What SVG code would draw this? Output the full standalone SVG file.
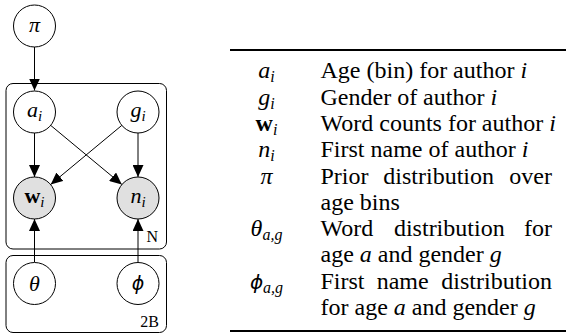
<svg xmlns="http://www.w3.org/2000/svg" width="566" height="334" viewBox="0 0 566 334">
<defs>
<marker id="ah" markerUnits="userSpaceOnUse" markerWidth="12" markerHeight="11" refX="12" refY="5.5" orient="auto">
<path d="M0,0 L12,5.5 L0,11 z" fill="#000"/>
</marker>
</defs>

<g id="plates" fill="none" stroke="#000" stroke-width="1">
<rect id="plate-N" x="6" y="83.5" width="160.5" height="165.5" rx="7"/>
<rect id="plate-2B" x="6" y="255.5" width="160.5" height="77" rx="7"/>
</g>
<text font-family="Liberation Serif" font-size="16" x="146.5" y="242">N</text>
<text font-family="Liberation Serif" font-size="16" text-anchor="end" x="159" y="327">2B</text>

<g id="connectors" stroke="#000" stroke-width="1" fill="none" marker-end="url(#ah)">
<line x1="34.5" y1="47" x2="34.5" y2="90.5"/>
<line x1="34.5" y1="133" x2="34.5" y2="177"/>
<line x1="138" y1="133" x2="138" y2="177"/>
<line x1="50.7" y1="125.4" x2="121.8" y2="184.4"/>
<line x1="121.8" y1="125.4" x2="50.7" y2="184.4"/>
<line x1="34.5" y1="262" x2="34.5" y2="219"/>
<line x1="138" y1="262" x2="138" y2="219"/>
</g>

<g id="node-pi">
<circle cx="34.5" cy="26" r="21" fill="#fff" stroke="#000"/>
<text font-family="Liberation Serif" font-size="22" font-style="italic" text-anchor="middle" x="34.5" y="32">&#960;</text>
</g>
<g id="node-a">
<circle cx="34.5" cy="112" r="21" fill="#fff" stroke="#000"/>
<text font-family="Liberation Serif" font-size="22" font-style="italic" text-anchor="middle" x="34.5" y="117">a<tspan font-size="15" dy="4">i</tspan></text>
</g>
<g id="node-g">
<circle cx="138" cy="112" r="21" fill="#fff" stroke="#000"/>
<text font-family="Liberation Serif" font-size="22" font-style="italic" text-anchor="middle" x="138" y="117">g<tspan font-size="15" dy="4">i</tspan></text>
</g>
<g id="node-w">
<circle cx="34.5" cy="198" r="21" fill="#e0e0e0" stroke="#000"/>
<text font-family="Liberation Serif" font-size="22" font-style="italic" text-anchor="middle" x="34.5" y="203"><tspan font-style="normal" font-weight="bold">w</tspan><tspan font-size="15" dy="4">i</tspan></text>
</g>
<g id="node-n">
<circle cx="138" cy="198" r="21" fill="#e0e0e0" stroke="#000"/>
<text font-family="Liberation Serif" font-size="22" font-style="italic" text-anchor="middle" x="138" y="203">n<tspan font-size="15" dy="4">i</tspan></text>
</g>
<g id="node-theta">
<circle cx="34.5" cy="283.5" r="21" fill="#fff" stroke="#000"/>
<text font-family="Liberation Serif" font-size="22" font-style="italic" text-anchor="middle" x="34.5" y="291">&#952;</text>
</g>
<g id="node-phi">
<circle cx="138" cy="283.5" r="21" fill="#fff" stroke="#000"/>
<text font-family="DejaVu Sans" font-size="19" font-style="italic" text-anchor="middle" x="138" y="290">&#981;</text>
</g>

<g id="table">
<line x1="230" y1="50" x2="566" y2="50" stroke="#000" stroke-width="2"/>
<line x1="230" y1="331" x2="566" y2="331" stroke="#000" stroke-width="2"/>

<text font-family="Liberation Serif" font-size="24" font-style="italic" text-anchor="middle" x="266.5" y="78.3">a<tspan font-size="16" dy="4">i</tspan></text>
<text font-family="Liberation Serif" font-size="24" x="320.5" y="78.3">Age (bin) for author <tspan font-style="italic">i</tspan></text>

<text font-family="Liberation Serif" font-size="24" font-style="italic" text-anchor="middle" x="266.5" y="104.6">g<tspan font-size="16" dy="4">i</tspan></text>
<text font-family="Liberation Serif" font-size="24" x="320.5" y="104.6">Gender of author <tspan font-style="italic">i</tspan></text>

<text font-family="Liberation Serif" font-size="24" text-anchor="middle" x="266.5" y="130.9"><tspan font-weight="bold">w</tspan><tspan font-size="16" font-style="italic" dy="4">i</tspan></text>
<text font-family="Liberation Serif" font-size="24" x="320.5" y="130.9">Word counts for author <tspan font-style="italic">i</tspan></text>

<text font-family="Liberation Serif" font-size="24" font-style="italic" text-anchor="middle" x="266.5" y="157.2">n<tspan font-size="16" dy="4">i</tspan></text>
<text font-family="Liberation Serif" font-size="24" x="320.5" y="157.2">First name of author <tspan font-style="italic">i</tspan></text>

<text font-family="Liberation Serif" font-size="24" font-style="italic" text-anchor="middle" x="266.5" y="183.5">&#960;</text>
<text font-family="Liberation Serif" font-size="24" x="320.5" y="183.5">Prior</text>
<text font-family="Liberation Serif" font-size="24" text-anchor="middle" x="438.7" y="183.5">distribution</text>
<text font-family="Liberation Serif" font-size="24" text-anchor="end" x="552" y="183.5">over</text>
<text font-family="Liberation Serif" font-size="24" x="320.5" y="209.8">age bins</text>

<text font-family="Liberation Serif" font-size="24" font-style="italic" text-anchor="middle" x="266.5" y="236.1">&#952;<tspan font-size="16" dy="4">a,g</tspan></text>
<text font-family="Liberation Serif" font-size="24" x="320.5" y="236.1">Word</text>
<text font-family="Liberation Serif" font-size="24" text-anchor="middle" x="449.3" y="236.1">distribution</text>
<text font-family="Liberation Serif" font-size="24" text-anchor="end" x="552" y="236.1">for</text>
<text font-family="Liberation Serif" font-size="24" x="320.5" y="262.4">age <tspan font-style="italic">a</tspan> and gender <tspan font-style="italic">g</tspan></text>

<text font-family="DejaVu Sans" font-size="20" font-style="italic" text-anchor="middle" x="266.5" y="288.7">&#981;<tspan font-family="Liberation Serif" font-size="16" dy="4">a,g</tspan></text>
<text font-family="Liberation Serif" font-size="24" x="320.5" y="288.7">First</text>
<text font-family="Liberation Serif" font-size="24" text-anchor="middle" x="402.7" y="288.7">name</text>
<text font-family="Liberation Serif" font-size="24" text-anchor="end" x="552" y="288.7">distribution</text>
<text font-family="Liberation Serif" font-size="24" x="320.5" y="315">for age <tspan font-style="italic">a</tspan> and gender <tspan font-style="italic">g</tspan></text>
</g>
</svg>
